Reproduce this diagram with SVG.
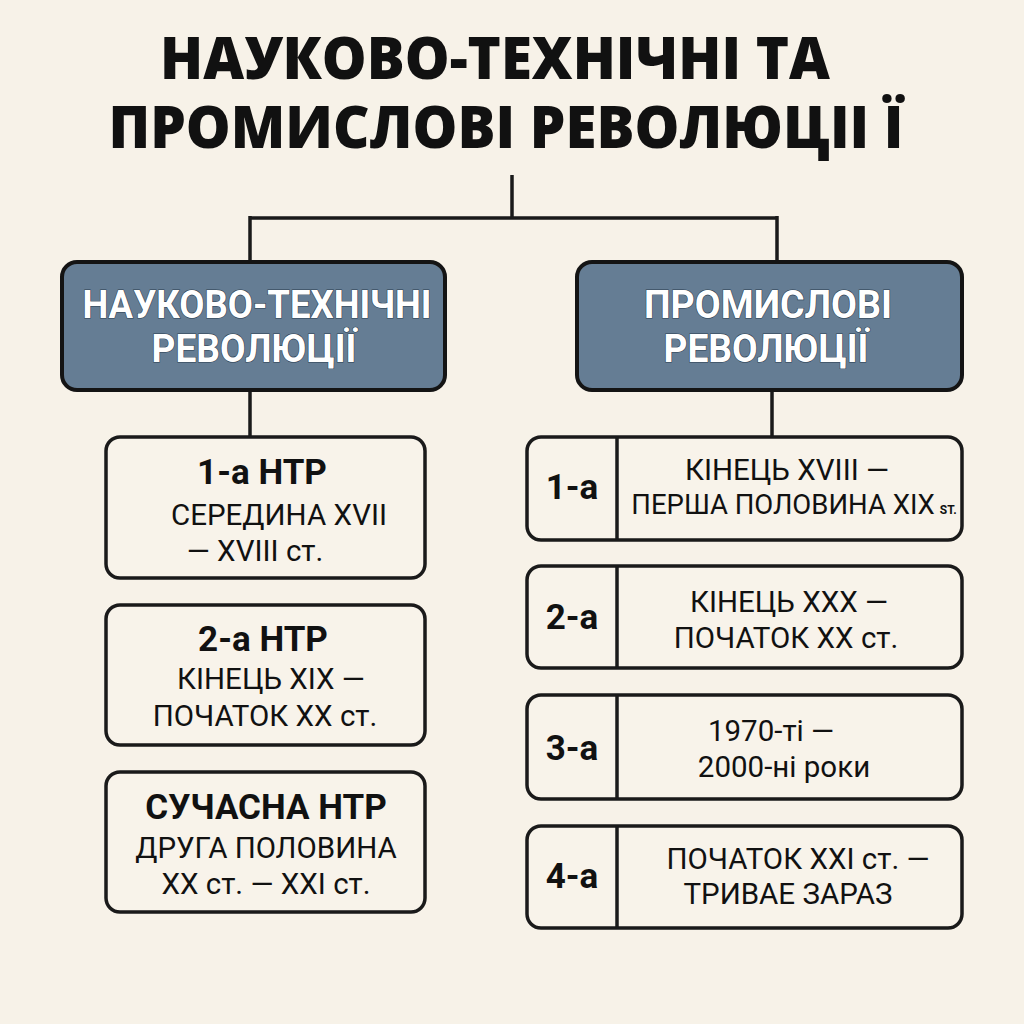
<svg xmlns="http://www.w3.org/2000/svg" width="1024" height="1024" viewBox="0 0 1024 1024">
<style>
.bg{fill:#f7f2e8}
.title{font-family:"Open Sans","DejaVu Sans",sans-serif;font-weight:800;font-size:58px;fill:#111;text-anchor:middle}
.hdr{fill:#657d94;stroke:#141414;stroke-width:4}
.hdrt{font-family:Roboto,"Noto Sans",sans-serif;font-weight:700;font-size:38px;fill:#fff;stroke:#2c3e50;stroke-width:1.2;paint-order:stroke;text-anchor:middle}
.box{fill:#f8f3ea;stroke:#1a1a1a;stroke-width:3.5}
.b{font-family:Roboto,"Noto Sans",sans-serif;font-weight:700;font-size:35px;fill:#111;text-anchor:middle}
.t{font-family:Roboto,"Noto Sans",sans-serif;font-weight:400;font-size:29.5px;fill:#111;text-anchor:middle}
.sm{font-size:12px;font-weight:700}
.ln{stroke:#1a1a1a;stroke-width:3.5;fill:none}
</style>
<rect class="bg" x="0" y="0" width="1024" height="1024"/>
<g id="title">
<text class="title"><tspan x="495" y="79" textLength="670" lengthAdjust="spacingAndGlyphs">НАУКОВО-ТЕХНІЧНІ ТА</tspan><tspan x="506" y="148" textLength="795" lengthAdjust="spacingAndGlyphs">ПРОМИСЛОВІ РЕВОЛЮЦІІ Ї</tspan></text>
</g>
<g id="connectors">
<path class="ln" d="M512 175 V218 M250 218 H777 M250 216 V262 M777 216 V262"/>
<path class="ln" d="M250 390 V437 M772 390 V437"/>
</g>
<g id="ntr-header">
<rect class="hdr" x="62" y="262" width="383" height="128" rx="15"/>
<text class="hdrt" x="257" y="318" textLength="349" lengthAdjust="spacingAndGlyphs">НАУКОВО-ТЕХНІЧНІ</text>
<text class="hdrt" x="254" y="362" textLength="205" lengthAdjust="spacingAndGlyphs">РЕВОЛЮЦІЇ</text>
</g>
<g id="pr-header">
<rect class="hdr" x="577" y="262" width="385" height="128" rx="15"/>
<text class="hdrt" x="768" y="318" textLength="248" lengthAdjust="spacingAndGlyphs">ПРОМИСЛОВІ</text>
<text class="hdrt" x="766" y="362" textLength="205" lengthAdjust="spacingAndGlyphs">РЕВОЛЮЦІЇ</text>
</g>
<g id="ntr1">
<rect class="box" x="106" y="437" width="319" height="141" rx="14"/>
<text class="b" x="262" y="484">1-а НТР</text>
<text class="t" x="279" y="525">СЕРЕДИНА XVII</text>
<text class="t" x="255" y="561">— XVIII ст.</text>
</g>
<g id="ntr2">
<rect class="box" x="106" y="605" width="319" height="140" rx="14"/>
<text class="b" x="263" y="651">2-а НТР</text>
<text class="t" x="271" y="689">КІНЕЦЬ XIX —</text>
<text class="t" x="265" y="726">ПОЧАТОК XX ст.</text>
</g>
<g id="ntr3">
<rect class="box" x="106" y="772" width="319" height="140" rx="14"/>
<text class="b" x="266" y="819">СУЧАСНА НТР</text>
<text class="t" x="266" y="858">ДРУГА ПОЛОВИНА</text>
<text class="t" x="266" y="894">XX ст. — XXI ст.</text>
</g>
<g id="pr1">
<rect class="box" x="527" y="437" width="435" height="103" rx="14"/>
<line class="ln" x1="617" y1="437" x2="617" y2="540"/>
<text class="b" x="572" y="499">1-а</text>
<text class="t" x="787" y="480">КІНЕЦЬ XVIII —</text>
<text class="t" x="794" y="514" style="font-size:27.5px">ПЕРША ПОЛОВИНА XIX<tspan class="sm" dx="5">ST.</tspan></text>
</g>
<g id="pr2">
<rect class="box" x="527" y="566" width="435" height="102" rx="14"/>
<line class="ln" x1="617" y1="566" x2="617" y2="668"/>
<text class="b" x="572" y="629">2-а</text>
<text class="t" x="789" y="612">КІНЕЦЬ XXX —</text>
<text class="t" x="786" y="648">ПОЧАТОК XX ст.</text>
</g>
<g id="pr3">
<rect class="box" x="527" y="695" width="435" height="104" rx="14"/>
<line class="ln" x1="617" y1="695" x2="617" y2="799"/>
<text class="b" x="572" y="760">3-а</text>
<text class="t" x="771" y="741">1970-ті —</text>
<text class="t" x="784" y="777">2000-ні роки</text>
</g>
<g id="pr4">
<rect class="box" x="527" y="826" width="435" height="102" rx="14"/>
<line class="ln" x1="617" y1="826" x2="617" y2="928"/>
<text class="b" x="572" y="888">4-а</text>
<text class="t" x="798" y="869">ПОЧАТОК XXI ст. —</text>
<text class="t" x="788" y="904">ТРИВАЕ ЗАРАЗ</text>
</g>
</svg>
